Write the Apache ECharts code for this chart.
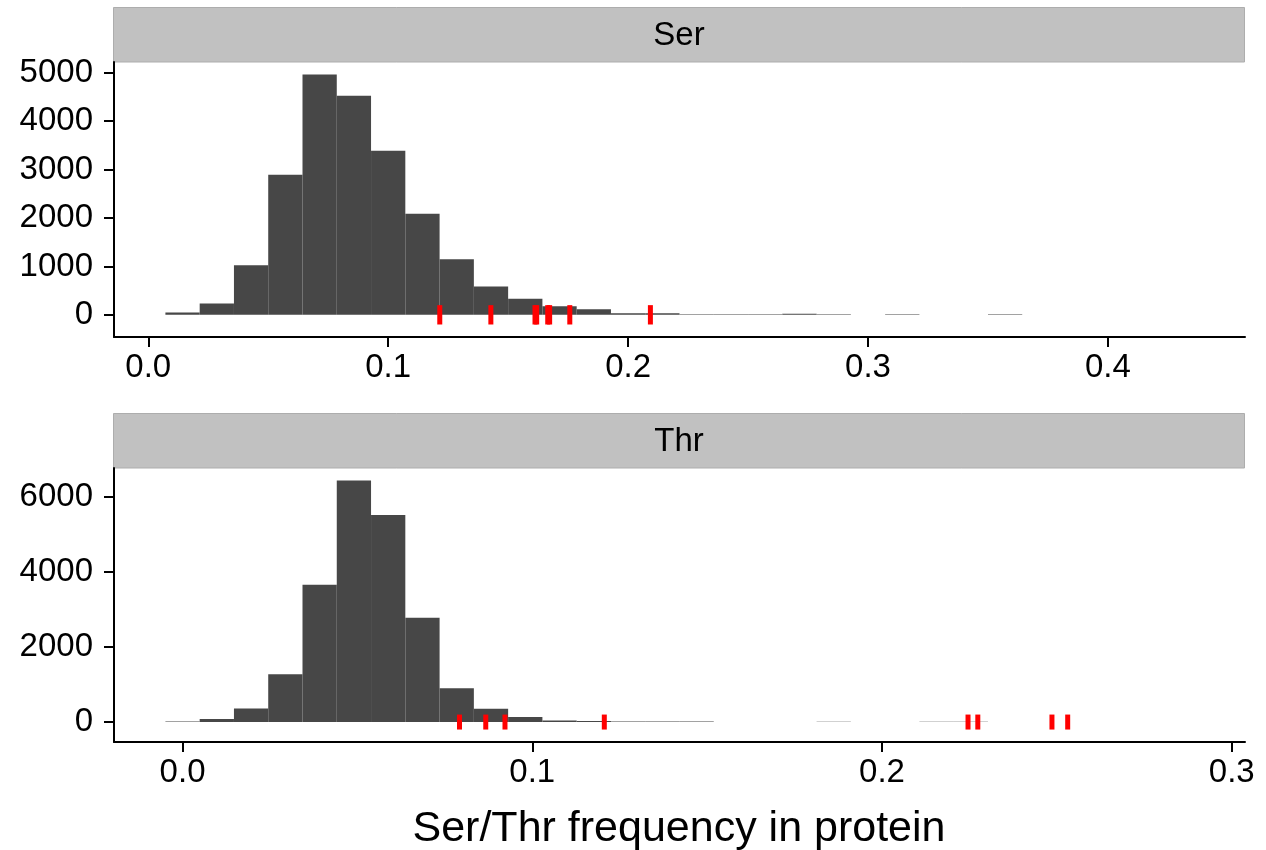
<!DOCTYPE html>
<html><head><meta charset="utf-8">
<script src="https://cdn.jsdelivr.net/npm/echarts@6/dist/echarts.min.js"></script>
<style>html,body{margin:0;padding:0;background:#fff}#c{width:1266px;height:850px}</style>
</head><body><div id="c"></div>
<script>
// ---- data ----
const panelNames = ['Ser', 'Thr'];
const xTitle = 'Ser/Thr frequency in protein';

const serBinStart = 0.00714;
const serBinWidth = 0.014286;
const serCounts = [48, 234, 1025, 2895, 4966, 4525, 3391, 2091, 1148, 584,
                   330, 175, 117, 35, 30, 12, 12, 12, 20, 10,
                   3, 10, 2, 2, 10, 0, 2, 2, 0, 1];
const serMarks = [0.1215, 0.1428, 0.1612, 0.1619, 0.1665, 0.1673, 0.1757, 0.2093];

const thrBinStart = -0.0049;
const thrBinWidth = 0.0098;
const thrCounts = [15, 80, 364, 1277, 3663, 6448, 5525, 2785, 905, 355,
                   133, 44, 30, 15, 15, 15, 2, 2, 2, 8,
                   3, 3, 8, 8, 3, 2, 2, 3, 1, 1];
const thrMarks = [0.0792, 0.0867, 0.0922, 0.1206, 0.2246, 0.2274, 0.2486, 0.2531];

const serTicksX = [0, 0.1, 0.2, 0.3, 0.4];
const thrTicksX = [0, 0.1, 0.2, 0.3];
const serTicksY = [0, 1000, 2000, 3000, 4000, 5000];
const thrTicksY = [0, 2000, 4000, 6000];
const markHalf = 200;

// ---- build ----
const FONT = "'Liberation Sans', Arial, Helvetica, sans-serif";
const TICK_FS = 33;
function bins(start, w, counts) {
  return counts.map((c, i) => [start + i * w, start + (i + 1) * w, c]);
}
function xRange(start, w, n) {
  const lo = start, hi = start + n * w, d = (hi - lo) * 0.05;
  return [lo - d, hi + d];
}
function yRange(counts) {
  const lo = -markHalf, hi = Math.max(...counts), d = (hi - lo) * 0.05;
  return [lo - d, hi + d];
}
const serX = xRange(serBinStart, serBinWidth, serCounts.length);
const thrX = xRange(thrBinStart, thrBinWidth, thrCounts.length);
const serY = yRange(serCounts);
const thrY = yRange(thrCounts);

const axisLineStyle = {color: '#000', width: 2};
function xAxisCfg(gi, range, ticks) {
  return {
    type: 'value', gridIndex: gi, min: range[0], max: range[1],
    axisLine: {show: true, onZero: false, lineStyle: axisLineStyle},
    axisTick: {show: true, length: 10, lineStyle: axisLineStyle, customValues: ticks},
    axisLabel: {customValues: ticks, formatter: v => v.toFixed(1), fontSize: TICK_FS, color: '#000', fontFamily: FONT, margin: 14},
    splitLine: {show: false}
  };
}
function yAxisCfg(gi, range, ticks) {
  return {
    type: 'value', gridIndex: gi, min: range[0], max: range[1],
    axisLine: {show: true, onZero: false, lineStyle: axisLineStyle},
    axisTick: {show: true, length: 10, lineStyle: axisLineStyle, customValues: ticks},
    axisLabel: {customValues: ticks, formatter: v => String(v), fontSize: TICK_FS, color: '#000', fontFamily: FONT, margin: 21},
    splitLine: {show: false}
  };
}
function barRender(params, api) {
  const p0 = api.coord([api.value(0), 0]);
  const p1 = api.coord([api.value(1), api.value(2)]);
  return {type: 'rect', shape: {x: p0[0], y: p1[1], width: p1[0] - p0[0], height: p0[1] - p1[1]},
          style: {fill: '#474747'}};
}
function markRender(params, api) {
  const p0 = api.coord([api.value(0), -markHalf]);
  const p1 = api.coord([api.value(0), markHalf]);
  return {type: 'rect', shape: {x: p0[0] - 2.5, y: p1[1], width: 5, height: p0[1] - p1[1]},
          style: {fill: '#ff0000'}};
}

const chart = echarts.init(document.getElementById('c'), null, {renderer: 'canvas'});
chart.setOption({
  animation: false,
  backgroundColor: '#fff',
  grid: [
    {left: 114, right: 21, top: 62, height: 275},
    {left: 114, right: 21, top: 468, height: 274}
  ],
  xAxis: [xAxisCfg(0, serX, serTicksX), xAxisCfg(1, thrX, thrTicksX)],
  yAxis: [yAxisCfg(0, serY, serTicksY), yAxisCfg(1, thrY, thrTicksY)],
  graphic: [
    {type: 'rect', shape: {x: 113.5, y: 7.5, width: 1131, height: 54.5}, style: {fill: '#c1c1c1', stroke: '#adadad', lineWidth: 1}},
    {type: 'text', x: 679, y: 36, style: {text: panelNames[0], font: TICK_FS + 'px ' + FONT, fill: '#000', textAlign: 'center', textVerticalAlign: 'middle'}},
    {type: 'rect', shape: {x: 113.5, y: 413.5, width: 1131, height: 54.5}, style: {fill: '#c1c1c1', stroke: '#adadad', lineWidth: 1}},
    {type: 'text', x: 679, y: 442, style: {text: panelNames[1], font: TICK_FS + 'px ' + FONT, fill: '#000', textAlign: 'center', textVerticalAlign: 'middle'}},
    {type: 'text', x: 679, y: 829, style: {text: xTitle, font: '43px ' + FONT, fill: '#000', textAlign: 'center', textVerticalAlign: 'middle'}}
  ],
  series: [
    {type: 'custom', xAxisIndex: 0, yAxisIndex: 0, renderItem: barRender, encode: {x: [0, 1], y: 2},
     data: bins(serBinStart, serBinWidth, serCounts), silent: true},
    {type: 'custom', xAxisIndex: 0, yAxisIndex: 0, renderItem: markRender, encode: {x: 0},
     data: serMarks.map(v => [v]), silent: true},
    {type: 'custom', xAxisIndex: 1, yAxisIndex: 1, renderItem: barRender, encode: {x: [0, 1], y: 2},
     data: bins(thrBinStart, thrBinWidth, thrCounts), silent: true},
    {type: 'custom', xAxisIndex: 1, yAxisIndex: 1, renderItem: markRender, encode: {x: 0},
     data: thrMarks.map(v => [v]), silent: true}
  ]
});
</script>
</body></html>
